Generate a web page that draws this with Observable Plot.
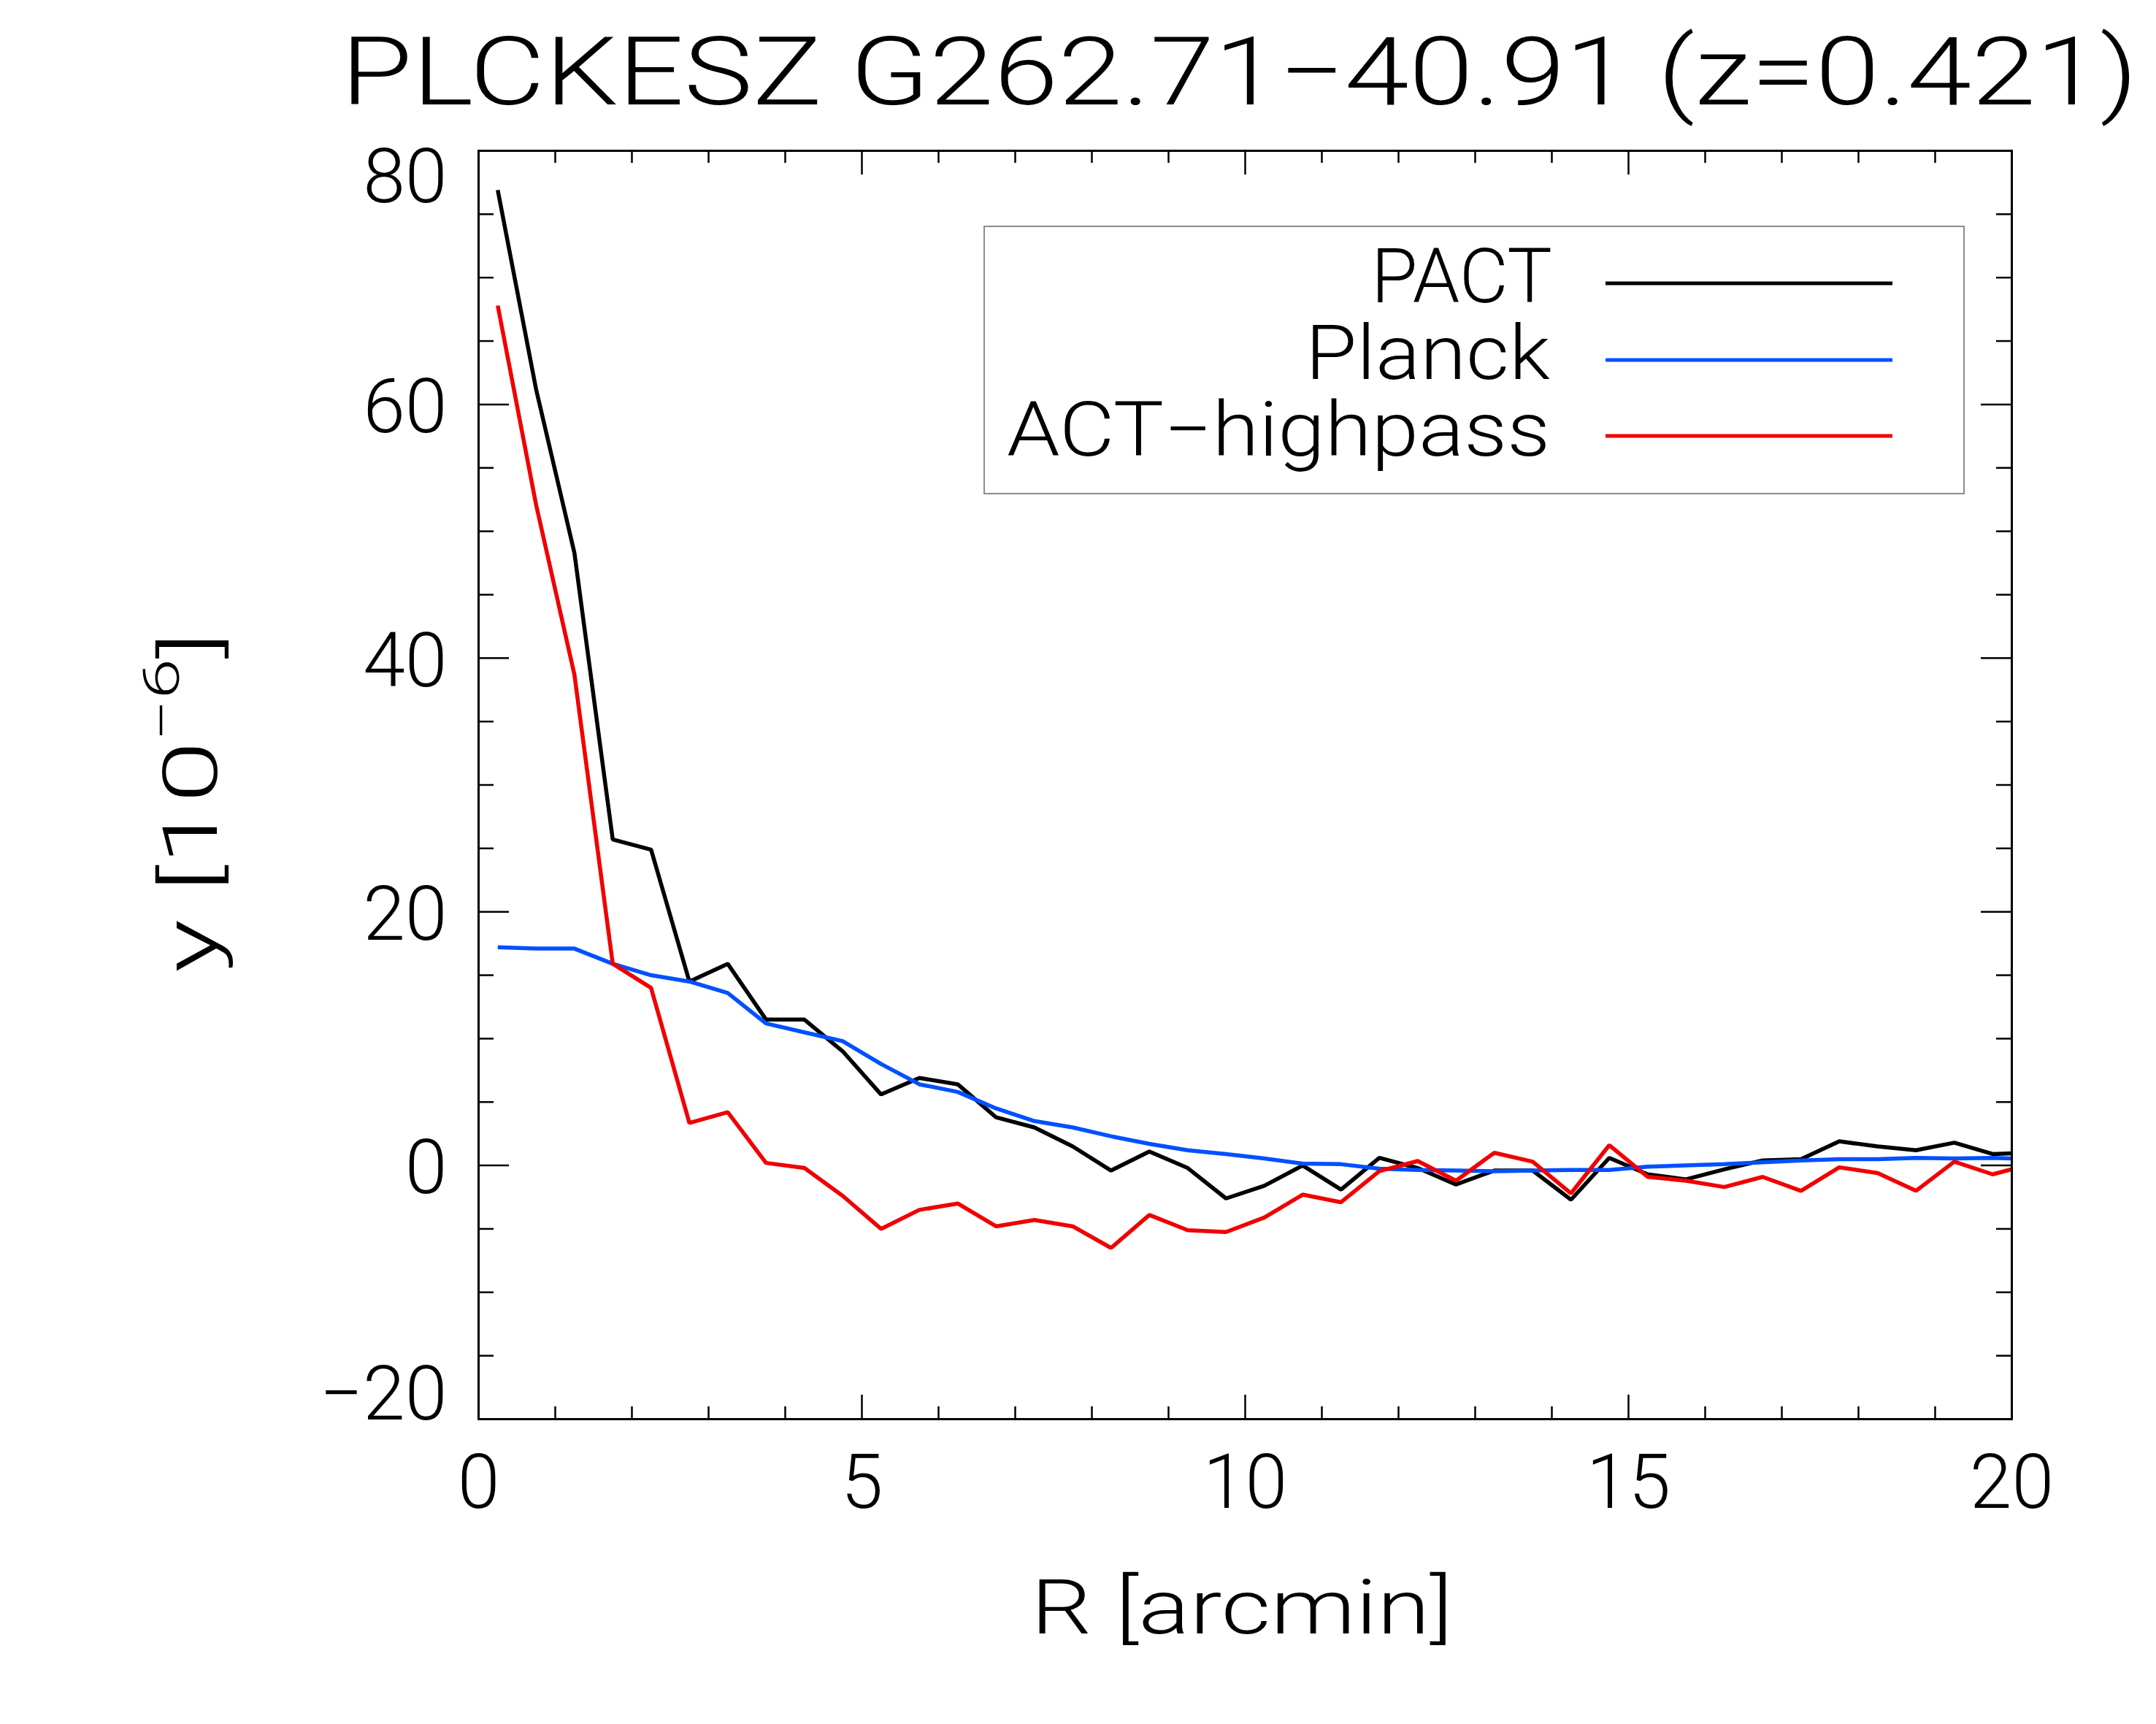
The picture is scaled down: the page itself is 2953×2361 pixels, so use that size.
<!DOCTYPE html>
<html>
<head>
<meta charset="utf-8">
<script src="https://cdn.jsdelivr.net/npm/d3@7"></script>
<script src="https://cdn.jsdelivr.net/npm/@observablehq/plot@0.6"></script>
<style>
  html, body { margin: 0; padding: 0; background: #ffffff; }
</style>
</head>
<body>
<div id="chart"></div>
<script>
// Radial y-profile of PLCKESZ G262.71-40.91, binned every 0.5 arcmin
const radius = [0.25, 0.75, 1.25, 1.75, 2.25, 2.75, 3.25, 3.75, 4.25, 4.75,
                5.25, 5.75, 6.25, 6.75, 7.25, 7.75, 8.25, 8.75, 9.25, 9.75,
                10.25, 10.75, 11.25, 11.75, 12.25, 12.75, 13.25, 13.75, 14.25, 14.75,
                15.25, 15.75, 16.25, 16.75, 17.25, 17.75, 18.25, 18.75, 19.25, 19.75,
                20.25];
const pact = [76.9, 61.2, 48.3, 25.7, 24.9, 14.5, 15.9, 11.5, 11.5, 9.0,
              5.6, 6.9, 6.4, 3.8, 3.0, 1.5, -0.4, 1.1, -0.2, -2.6,
              -1.6, 0.0, -1.9, 0.6, -0.2, -1.5, -0.4, -0.4, -2.7, 0.6,
              -0.7, -1.1, -0.3, 0.4, 0.5, 1.9, 1.5, 1.2, 1.8, 0.9,
              1.0];
const planck = [17.2, 17.1, 17.1, 15.9, 15.0, 14.5, 13.6, 11.2, 10.5, 9.8,
                8.0, 6.4, 5.8, 4.5, 3.5, 3.0, 2.3, 1.7, 1.2, 0.9,
                0.55, 0.15, 0.1, -0.25, -0.35, -0.4, -0.45, -0.4, -0.35, -0.35,
                -0.1, 0.0, 0.1, 0.25, 0.4, 0.5, 0.5, 0.6, 0.55, 0.6,
                0.5];
const actHighpass = [67.8, 52.1, 38.7, 15.9, 14.0, 3.35, 4.2, 0.2, -0.2, -2.4,
                     -5.0, -3.5, -3.0, -4.8, -4.3, -4.8, -6.5, -3.9, -5.1, -5.25,
                     -4.1, -2.3, -2.9, -0.45, 0.35, -1.2, 1.0, 0.3, -2.2, 1.6,
                     -0.9, -1.2, -1.7, -0.9, -2.0, -0.15, -0.6, -2.0, 0.3, -0.7,
                     0.1];

const seriesNames = ["PACT", "Planck", "ACT\u2212highpass"];
const seriesColors = ["#000000", "#0050ff", "#f00000"];

const xMajorTicks = [0, 5, 10, 15, 20];
const xMinorTicks = [1, 2, 3, 4, 6, 7, 8, 9, 11, 12, 13, 14, 16, 17, 18, 19];
const yMajorTicks = [-20, 0, 20, 40, 60, 80];
const yMinorTicks = [-15, -10, -5, 5, 10, 15, 25, 30, 35, 45, 50, 55, 65, 70, 75];

const titleText = "PLCKESZ G262.71\u221240.91 (z=0.421)";
const xLabelText = "R [arcmin]";

// ---- layout ----
const W = 2953, H = 2361;
const mL = 655, mR = 198, mT = 206, mB = 418;
const innerW = W - mL - mR, innerH = H - mT - mB;
const FONT = "Roboto, 'Liberation Sans', 'DejaVu Sans', sans-serif";
const FW = 300;
const LABEL_SIZE = 104;
const LINE_W = 5.5;

// long-format table for the line mark
const seriesValues = [pact, planck, actHighpass];
const rows = [];
seriesValues.forEach((vals, s) => {
  vals.forEach((v, i) => rows.push({R: radius[i], y: v, series: seriesNames[s]}));
});

const fmt = d => d < 0 ? "\u2212" + Math.abs(d) : String(d);
const yMid = yMajorTicks.slice(1, -1);
const yTop = yMajorTicks.slice(-1);
const yBottom = yMajorTicks.slice(0, 1);

const tickStyle = {stroke: "#000", strokeWidth: 2.5};

const svg = Plot.plot({
  width: W,
  height: H,
  marginLeft: mL,
  marginRight: mR,
  marginTop: mT,
  marginBottom: mB,
  style: {fontFamily: FONT, background: "#fff", color: "#000"},
  x: {domain: [0, 20], axis: null},
  y: {domain: [-20, 80], axis: null},
  color: {domain: seriesNames, range: seriesColors},
  marks: [
    // profiles
    Plot.line(rows, {x: "R", y: "y", z: "series", stroke: "series",
      strokeWidth: LINE_W, strokeLinejoin: "miter", strokeLinecap: "butt", clip: true}),
    // inward ticks on all four sides
    Plot.tickX(xMajorTicks, {x: d => d, insetTop: innerH - 33, ...tickStyle}),
    Plot.tickX(xMinorTicks, {x: d => d, insetTop: innerH - 17, ...tickStyle}),
    Plot.tickX(xMajorTicks, {x: d => d, insetBottom: innerH - 33, ...tickStyle}),
    Plot.tickX(xMinorTicks, {x: d => d, insetBottom: innerH - 17, ...tickStyle}),
    Plot.tickY(yMajorTicks, {y: d => d, insetRight: innerW - 42, ...tickStyle}),
    Plot.tickY(yMinorTicks, {y: d => d, insetRight: innerW - 21, ...tickStyle}),
    Plot.tickY(yMajorTicks, {y: d => d, insetLeft: innerW - 42, ...tickStyle}),
    Plot.tickY(yMinorTicks, {y: d => d, insetLeft: innerW - 21, ...tickStyle}),
    Plot.frame({stroke: "#000", strokeWidth: 3}),
    // tick labels
    Plot.text(xMajorTicks, {x: d => d, frameAnchor: "bottom", dy: 121, text: fmt,
      fontSize: LABEL_SIZE, fontWeight: FW, fill: "#000"}),
    Plot.text(yMid, {y: d => d, frameAnchor: "left", dx: -43, dy: 5, text: fmt,
      textAnchor: "end", fontSize: LABEL_SIZE, fontWeight: FW, fill: "#000"}),
    Plot.text(yTop, {y: d => d, frameAnchor: "left", dx: -43, dy: 37, text: fmt,
      textAnchor: "end", fontSize: LABEL_SIZE, fontWeight: FW, fill: "#000"}),
    Plot.text(yBottom, {y: d => d, frameAnchor: "left", dx: -43, dy: -33, text: fmt,
      textAnchor: "end", fontSize: LABEL_SIZE, fontWeight: FW, fill: "#000"})
  ]
});

const root = d3.select(svg);
const textAttrs = sel => sel.attr("font-family", FONT).attr("font-weight", FW)
  .attr("fill", "#000").attr("text-anchor", "start")
  .attr("lengthAdjust", "spacingAndGlyphs");

// title
root.append("text").call(textAttrs)
  .attr("x", 467).attr("y", 143)
  .attr("font-size", 130)
  .attr("textLength", 2461)
  .text(titleText);

// x axis label
root.append("text").call(textAttrs)
  .attr("x", 1412).attr("y", 2237)
  .attr("font-size", LABEL_SIZE)
  .attr("textLength", 578)
  .text(xLabelText);

// y axis label with superscript exponent
const yl = root.append("text").call(textAttrs)
  .attr("transform", "translate(297,1332) rotate(-90)")
  .attr("font-size", LABEL_SIZE)
  .attr("textLength", 467);
yl.append("tspan").text("y [10");
yl.append("tspan").attr("font-size", 68).attr("dy", -52).text("\u22126");
yl.append("tspan").attr("dy", 52).text("]");

// legend
const lg = root.append("g");
lg.append("rect")
  .attr("x", 1348).attr("y", 310).attr("width", 1342).attr("height", 366)
  .attr("fill", "none").attr("stroke", "#8c8c8c").attr("stroke-width", 2);
const legendRows = [
  {baseline: 414, lineY: 388, textX: 1878, len: 248},
  {baseline: 519, lineY: 493, textX: 1788, len: 335},
  {baseline: 624, lineY: 597, textX: 1379, len: 744}
];
seriesNames.forEach((name, i) => {
  const r = legendRows[i];
  lg.append("text").call(textAttrs)
    .attr("x", r.textX).attr("y", r.baseline)
    .attr("font-size", LABEL_SIZE)
    .attr("textLength", r.len)
    .text(name);
  lg.append("line")
    .attr("x1", 2199).attr("x2", 2592)
    .attr("y1", r.lineY).attr("y2", r.lineY)
    .attr("stroke", seriesColors[i]).attr("stroke-width", 5);
});

document.getElementById("chart").appendChild(svg);
</script>
</body>
</html>
